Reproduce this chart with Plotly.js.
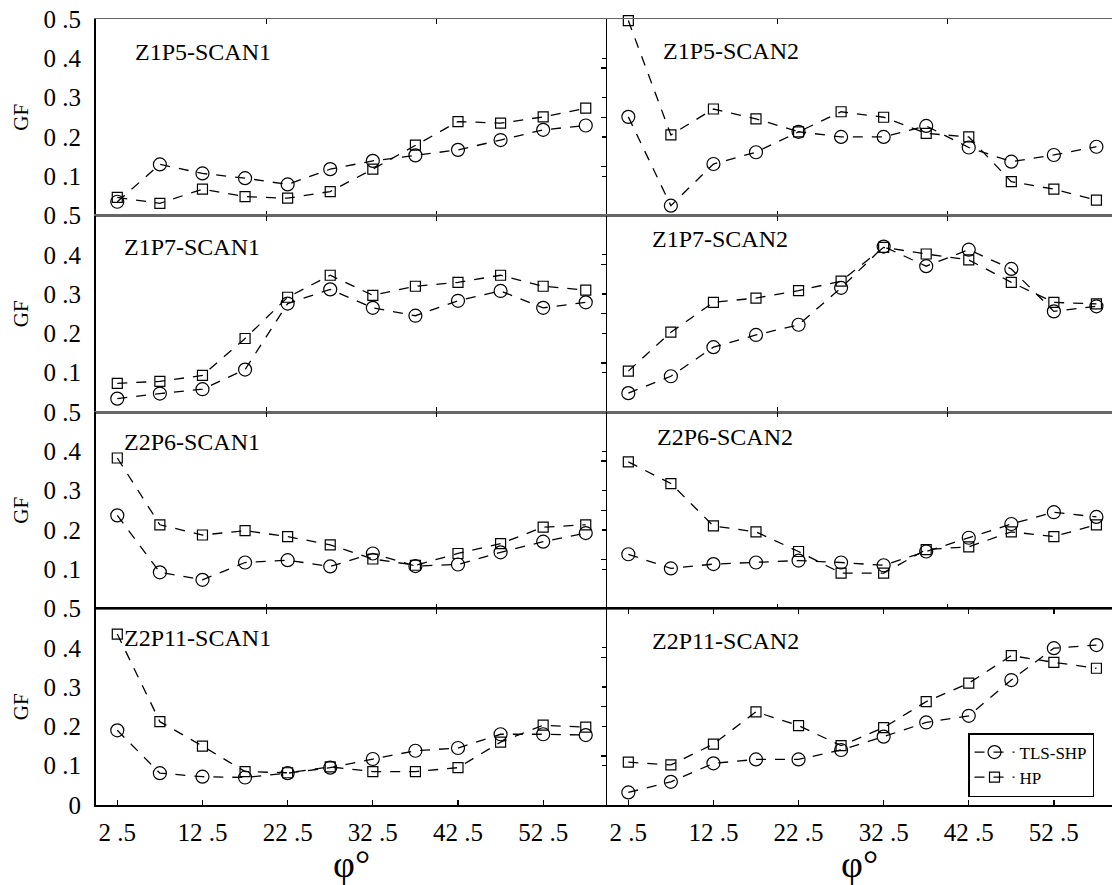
<!DOCTYPE html>
<html>
<head>
<meta charset="utf-8">
<script src="https://cdn.plot.ly/plotly-3.0.1.min.js"></script>
<style>
  html, body { margin: 0; padding: 0; background: #fff; }
  #chart { width: 1112px; height: 885px; }
</style>
</head>
<body>
<div id="chart"></div>
<script>
// ---- data ----
const phi = [2.5, 7.5, 12.5, 17.5, 22.5, 27.5, 32.5, 37.5, 42.5, 47.5, 52.5, 57.5];

const z1p5_scan1_tls = [0.035, 0.130, 0.107, 0.095, 0.079, 0.118, 0.139, 0.153, 0.167, 0.192, 0.218, 0.229];
const z1p5_scan1_hp  = [0.046, 0.031, 0.067, 0.048, 0.044, 0.061, 0.118, 0.179, 0.239, 0.235, 0.251, 0.273];

const z1p5_scan2_tls = [0.251, 0.025, 0.131, 0.161, 0.213, 0.200, 0.200, 0.228, 0.173, 0.137, 0.154, 0.175];
const z1p5_scan2_hp  = [0.496, 0.205, 0.271, 0.246, 0.213, 0.264, 0.250, 0.209, 0.200, 0.086, 0.067, 0.039];

const z1p7_scan1_tls = [0.034, 0.047, 0.058, 0.108, 0.276, 0.312, 0.265, 0.245, 0.283, 0.308, 0.265, 0.279];
const z1p7_scan1_hp  = [0.073, 0.078, 0.093, 0.187, 0.292, 0.348, 0.297, 0.320, 0.330, 0.348, 0.320, 0.310];

const z1p7_scan2_tls = [0.048, 0.091, 0.165, 0.196, 0.222, 0.316, 0.421, 0.371, 0.413, 0.364, 0.256, 0.269];
const z1p7_scan2_hp  = [0.104, 0.203, 0.279, 0.290, 0.309, 0.333, 0.419, 0.402, 0.387, 0.330, 0.279, 0.275];

const z2p6_scan1_tls = [0.237, 0.092, 0.073, 0.117, 0.123, 0.107, 0.140, 0.108, 0.112, 0.143, 0.170, 0.192];
const z2p6_scan1_hp  = [0.383, 0.213, 0.187, 0.198, 0.183, 0.162, 0.126, 0.110, 0.140, 0.165, 0.207, 0.213];

const z2p6_scan2_tls = [0.138, 0.102, 0.113, 0.117, 0.122, 0.117, 0.110, 0.145, 0.180, 0.215, 0.245, 0.233];
const z2p6_scan2_hp  = [0.373, 0.318, 0.210, 0.195, 0.145, 0.090, 0.090, 0.150, 0.157, 0.195, 0.183, 0.213];

const z2p11_scan1_tls = [0.190, 0.081, 0.072, 0.070, 0.081, 0.095, 0.117, 0.138, 0.145, 0.180, 0.180, 0.178];
const z2p11_scan1_hp  = [0.435, 0.212, 0.150, 0.085, 0.082, 0.097, 0.085, 0.085, 0.095, 0.160, 0.203, 0.198];

const z2p11_scan2_tls = [0.032, 0.059, 0.106, 0.116, 0.116, 0.140, 0.174, 0.210, 0.227, 0.318, 0.399, 0.407];
const z2p11_scan2_hp  = [0.109, 0.102, 0.155, 0.237, 0.202, 0.151, 0.197, 0.263, 0.310, 0.380, 0.363, 0.348];

const panelNames = ["Z1P5-SCAN1", "Z1P5-SCAN2", "Z1P7-SCAN1", "Z1P7-SCAN2",
                    "Z2P6-SCAN1", "Z2P6-SCAN2", "Z2P11-SCAN1", "Z2P11-SCAN2"];
const seriesNames = ["TLS-SHP", "HP"];

const xTickVals = [2.5, 12.5, 22.5, 32.5, 42.5, 52.5];
const xTickText = ["2 .5", "12 .5", "22 .5", "32 .5", "42 .5", "52 .5"];
const xMinorTicks = [20, 40];
const yTickVals = [0.1, 0.2, 0.3, 0.4, 0.5];
const yTickText = ["0 .1", "0 .2", "0 .3", "0 .4", "0 .5"];
const yTickValsBottom = [0, 0.1, 0.2, 0.3, 0.4, 0.5];
const yTickTextBottom = ["0", "0 .1", "0 .2", "0 .3", "0 .4", "0 .5"];
const yRightPanelTicks = [0.125, 0.25, 0.375];
const yMirrorTicks = [0.1, 0.2, 0.3, 0.4];
const xTitle = "φ°";
const yTitle = "GF";

const panelSeries = [
  [z1p5_scan1_tls, z1p5_scan1_hp], [z1p5_scan2_tls, z1p5_scan2_hp],
  [z1p7_scan1_tls, z1p7_scan1_hp], [z1p7_scan2_tls, z1p7_scan2_hp],
  [z2p6_scan1_tls, z2p6_scan1_hp], [z2p6_scan2_tls, z2p6_scan2_hp],
  [z2p11_scan1_tls, z2p11_scan1_hp], [z2p11_scan2_tls, z2p11_scan2_hp]
];

// ---- layout geometry ----
const FONT = "Liberation Serif, Times New Roman, serif";
const W = 1112, H = 885;
const M = {l: 96, r: 0, t: 19, b: 80};
const PW = W - M.l - M.r, PH = H - M.t - M.b;
const colSplit = 0.503;
const labelPos = [[133, 52], [661, 51], [122, 247], [650, 239],
                  [122, 442], [655, 437], [122, 638], [650, 641]];

const data = [];
const layout = {
  width: W, height: H,
  margin: M,
  paper_bgcolor: "#fff", plot_bgcolor: "rgba(0,0,0,0)",
  font: {family: FONT, color: "#000", size: 20},
  showlegend: true,
  legend: {
    x: (968 - M.l) / PW, y: (805 - 733) / PH, xanchor: "left", yanchor: "top",
    bordercolor: "#000", borderwidth: 1.5, bgcolor: "#fff",
    font: {family: FONT, size: 17, color: "#000"},
    itemwidth: 40, tracegroupgap: 0
  },
  annotations: [],
  hovermode: false
};

function sfx(i) { return i === 1 ? "" : String(i); }

for (let p = 0; p < 8; p++) {
  const i = p + 1;
  const r = Math.floor(p / 2), c = p % 2;
  const s = sfx(i);
  const xr = c === 0 ? [0, 60] : [0, 59.33];
  const xdom = c === 0 ? [0, colSplit] : [colSplit, 1];
  const ydom = [(3 - r) * 0.25, (4 - r) * 0.25];

  const xa = {
    domain: xdom, range: xr, anchor: "y" + s,
    showline: true, linecolor: r === 3 ? "#000" : "#666", linewidth: r === 3 ? 2 : 1.5,
    mirror: true, showgrid: false, zeroline: false,
    ticks: "inside", ticklen: 5, tickwidth: 1.3, tickcolor: "#000",
    tickmode: "array",
    tickvals: r === 3 ? xTickVals : xMinorTicks,
    showticklabels: r === 3,
    tickfont: {family: FONT, size: 25, color: "#000"},
    ticklabelstandoff: 4,
    automargin: false, fixedrange: true
  };
  if (r === 3) {
    xa.ticktext = xTickText;
    // x-axis title "φ°" drawn as annotation centred under the panel
    layout.annotations.push({
      text: xTitle, xref: "paper", yref: "paper",
      x: (xdom[0] + xdom[1]) / 2, y: (M.t + PH - 887) / PH,
      xanchor: "center", yanchor: "bottom", showarrow: false,
      font: {family: FONT, size: 38, color: "#000"}
    });
  }
  layout["xaxis" + s] = xa;

  // top tick marks
  layout["xaxis" + (8 + i)] = {
    domain: xdom, range: xr, anchor: "y" + s, overlaying: "x" + s, side: "top",
    showline: false, showgrid: false, zeroline: false,
    ticks: "inside", ticklen: 5, tickwidth: 1.3, tickcolor: "#000",
    tickmode: "array", tickvals: (r === 3 && c === 1) ? xTickVals : xMinorTicks,
    showticklabels: false, automargin: false, fixedrange: true
  };

  const ya = {
    domain: ydom, range: [0, 0.5], anchor: "x" + s,
    showline: true, linecolor: "#000", linewidth: c === 0 ? 2 : 1.5,
    showgrid: false, zeroline: false,
    ticks: c === 0 ? "" : "outside", ticklen: 5, tickwidth: 1.3, tickcolor: "#000",
    tickmode: "array",
    tickvals: c === 0 ? (r === 3 ? yTickValsBottom : yTickVals) : yRightPanelTicks,
    showticklabels: c === 0,
    tickfont: {family: FONT, size: 25, color: "#000"},
    ticklabelstandoff: 8,
    automargin: false, fixedrange: true
  };
  if (c === 0) {
    ya.ticktext = r === 3 ? yTickTextBottom : yTickText;
    ya.title = {text: yTitle, font: {family: FONT, size: 21, color: "#000"}, standoff: 9};
  }
  layout["yaxis" + s] = ya;

  if (c === 0) {
    layout["yaxis" + (8 + i)] = {
      domain: ydom, range: [0, 0.5], anchor: "x" + s, overlaying: "y" + s, side: "right",
      showline: false, showgrid: false, zeroline: false,
      ticks: "inside", ticklen: 5, tickwidth: 1.3, tickcolor: "#000",
      tickmode: "array", tickvals: yMirrorTicks,
      showticklabels: false, automargin: false, fixedrange: true
    };
  }

  const [tls, hp] = panelSeries[p];
  data.push({
    type: "scatter", mode: "lines+markers", x: phi, y: tls,
    xaxis: "x" + s, yaxis: "y" + s, name: seriesNames[0], legendgroup: "tls",
    showlegend: p === 7, cliponaxis: false,
    line: {color: "#000", width: 1.3, dash: "10px,9px"},
    marker: {symbol: "circle-open", size: 13, color: "#000", line: {width: 1.2, color: "#000"}}
  });
  data.push({
    type: "scatter", mode: "lines+markers", x: phi, y: hp,
    xaxis: "x" + s, yaxis: "y" + s, name: seriesNames[1], legendgroup: "hp",
    showlegend: p === 7, cliponaxis: false,
    line: {color: "#000", width: 1.3, dash: "10px,9px"},
    marker: {symbol: "square-open", size: 10, color: "#000", line: {width: 1.2, color: "#000"}}
  });
  if (c === 0) {
    data.push({type: "scatter", x: [], y: [], xaxis: "x" + (8 + i), yaxis: "y" + (8 + i),
               showlegend: false, hoverinfo: "skip"});
  } else {
    data.push({type: "scatter", x: [], y: [], xaxis: "x" + (8 + i), yaxis: "y" + s,
               showlegend: false, hoverinfo: "skip"});
  }

  const [lx, ly] = labelPos[p];
  layout.annotations.push({
    text: panelNames[p], xref: "paper", yref: "paper",
    x: (lx - M.l) / PW, y: (M.t + PH - ly) / PH,
    xanchor: "left", yanchor: "middle", showarrow: false,
    font: {family: FONT, size: 24, color: "#000"}
  });
}

Plotly.newPlot("chart", data, layout, {staticPlot: true, displayModeBar: false});
</script>
</body>
</html>
